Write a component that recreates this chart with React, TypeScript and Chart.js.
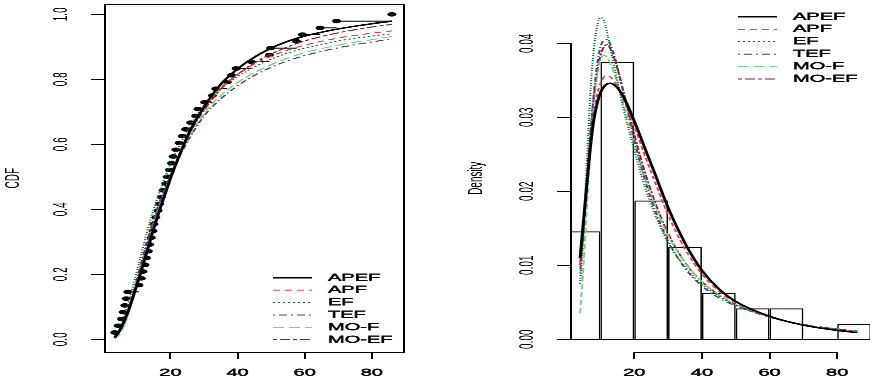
import React, { useEffect, useRef } from 'react';
import { Chart, registerables } from 'chart.js';

Chart.register(...registerables);

const FONT = '"Liberation Sans", Arial, Helvetica, sans-serif';

// ---------- data ----------
const models = ['APEF', 'APF', 'EF', 'TEF', 'MO-F', 'MO-EF'];

// observed sample (sorted), n = 48
const sample = [
  3.4, 4.4, 5.4, 5.9, 6.4, 6.8, 7.3,
  10.6, 11.3, 11.8, 12.4, 12.8, 13.4, 13.8, 14.3, 14.8, 15.1, 15.6, 16.3, 16.8, 17.3, 17.8, 18.6, 19.0, 19.7,
  20.3, 20.8, 21.6, 22.6, 23.5, 24.5, 26.0, 27.5, 28.2,
  30.2, 32.5, 33.5, 36.9, 38.2, 39.6,
  44.0, 49.5, 49.8,
  57.6, 59.3,
  64.6, 69.5,
  86.0,
];

// fitted CDFs
const cdfX = [3.4, 5, 7, 9, 11, 13, 15, 17, 20, 23, 26, 30, 35, 40, 45, 50, 55, 60, 70, 80, 86];
const cdfAPEF = [0.005, 0.030, 0.075, 0.135, 0.200, 0.270, 0.340, 0.405, 0.495, 0.575, 0.645, 0.715, 0.785, 0.832, 0.868, 0.896, 0.917, 0.933, 0.955, 0.971, 0.979];
const cdfAPF = [0.005, 0.027, 0.072, 0.135, 0.205, 0.275, 0.345, 0.410, 0.500, 0.578, 0.643, 0.712, 0.774, 0.815, 0.847, 0.871, 0.890, 0.905, 0.927, 0.942, 0.949];
const cdfEF = [0.008, 0.035, 0.095, 0.170, 0.250, 0.330, 0.400, 0.460, 0.540, 0.603, 0.658, 0.720, 0.770, 0.808, 0.838, 0.862, 0.881, 0.896, 0.918, 0.933, 0.940];
const cdfTEF = [0.005, 0.025, 0.075, 0.145, 0.225, 0.300, 0.370, 0.430, 0.505, 0.570, 0.625, 0.687, 0.740, 0.780, 0.812, 0.837, 0.857, 0.873, 0.897, 0.915, 0.923];
const cdfMOF = [0.002, 0.018, 0.065, 0.135, 0.210, 0.285, 0.355, 0.420, 0.500, 0.566, 0.626, 0.695, 0.750, 0.790, 0.820, 0.845, 0.865, 0.882, 0.905, 0.922, 0.932];
const cdfMOEF = [0.005, 0.027, 0.075, 0.140, 0.215, 0.290, 0.360, 0.420, 0.500, 0.575, 0.640, 0.705, 0.770, 0.815, 0.850, 0.878, 0.900, 0.918, 0.943, 0.961, 0.969];

// histogram
const histBreaks = [0, 10, 20, 30, 40, 50, 60, 70, 80, 90];
const histDensity = [0.01458, 0.0375, 0.01875, 0.0125, 0.00625, 0.00417, 0.00417, 0, 0.00208];

// fitted densities
const densX = [4, 5, 6, 7, 8, 9, 10, 11, 12, 13, 14, 15, 17, 20, 23, 26, 30, 35, 40, 45, 50, 60, 70, 80, 86];
const denAPEF = [0.0110, 0.0160, 0.0210, 0.0258, 0.0295, 0.0318, 0.0333, 0.0341, 0.0345, 0.0346, 0.0344, 0.0340, 0.0326, 0.0295, 0.0260, 0.0225, 0.0178, 0.0130, 0.0093, 0.0068, 0.0051, 0.0031, 0.0019, 0.0012, 0.0009];
const denAPF = [0.0100, 0.0155, 0.0210, 0.0262, 0.0302, 0.0330, 0.0346, 0.0354, 0.0356, 0.0354, 0.0349, 0.0342, 0.0322, 0.0288, 0.0250, 0.0214, 0.0168, 0.0122, 0.0088, 0.0065, 0.0049, 0.0030, 0.0019, 0.0013, 0.0010];
const denEF = [0.0075, 0.0145, 0.0240, 0.0330, 0.0390, 0.0422, 0.0435, 0.0431, 0.0414, 0.0392, 0.0370, 0.0350, 0.0308, 0.0256, 0.0208, 0.0170, 0.0131, 0.0098, 0.0074, 0.0058, 0.0046, 0.0030, 0.0020, 0.0014, 0.0011];
const denTEF = [0.0090, 0.0145, 0.0210, 0.0275, 0.0330, 0.0370, 0.0395, 0.0404, 0.0405, 0.0398, 0.0385, 0.0368, 0.0330, 0.0270, 0.0218, 0.0176, 0.0133, 0.0096, 0.0072, 0.0056, 0.0045, 0.0030, 0.0020, 0.0014, 0.0011];
const denMOF = [0.0035, 0.0100, 0.0180, 0.0258, 0.0318, 0.0356, 0.0377, 0.0384, 0.0381, 0.0372, 0.0360, 0.0346, 0.0314, 0.0266, 0.0220, 0.0182, 0.0140, 0.0104, 0.0078, 0.0060, 0.0047, 0.0030, 0.0020, 0.0014, 0.0011];
const denMOEF = [0.0100, 0.0155, 0.0215, 0.0275, 0.0325, 0.0360, 0.0383, 0.0395, 0.0398, 0.0392, 0.0381, 0.0366, 0.0331, 0.0277, 0.0228, 0.0187, 0.0143, 0.0104, 0.0078, 0.0060, 0.0047, 0.0030, 0.0019, 0.0013, 0.0010];

const cdfCurves = [cdfAPEF, cdfAPF, cdfEF, cdfTEF, cdfMOF, cdfMOEF];
const denCurves = [denAPEF, denAPF, denEF, denTEF, denMOF, denMOEF];

// ---------- styles ----------
const colors = ['#000000', '#e0405a', '#0b6b2b', '#4b3c8c', '#80cc80', '#8b1f1f'];
const dashes = [[], [7, 5], [2, 3], [2, 4, 8, 4], [11, 5], [4, 3, 10, 3]];
const widths = [3, 2, 2, 2, 2, 2];

Chart.defaults.font.family = FONT;
Chart.defaults.font.size = 20;
Chart.defaults.color = '#000';

function legendPlugin(id: string, x0: number, x1: number, tx: number, y0: number, dy: number) {
  return {
    id,
    afterDraw(chart: any) {
      const ctx = chart.ctx;
      ctx.save();
      let row = 0;
      chart.data.datasets.forEach((ds: any) => {
        if (!ds.inLegend) return;
        const y = y0 + row * dy;
        ctx.beginPath();
        ctx.setLineDash(ds.borderDash || []);
        ctx.strokeStyle = ds.borderColor;
        ctx.lineWidth = ds.borderWidth;
        ctx.moveTo(x0, y);
        ctx.lineTo(x1, y);
        ctx.stroke();
        ctx.setLineDash([]);
        ctx.fillStyle = '#000';
        ctx.strokeStyle = '#000';
        ctx.lineWidth = 0.8;
        ctx.font = `20px ${FONT}`;
        ctx.textBaseline = 'middle';
        ctx.textAlign = 'left';
        ctx.strokeText(ds.label, tx, y);
        ctx.fillText(ds.label, tx, y);
        row++;
      });
      ctx.restore();
    },
  };
}

const boxPlugin = {
  id: 'box',
  afterDraw(chart: any) {
    const { ctx, chartArea: a } = chart;
    ctx.save();
    ctx.strokeStyle = '#000';
    ctx.lineWidth = 2;
    ctx.setLineDash([]);
    ctx.strokeRect(a.left, a.top, a.right - a.left, a.bottom - a.top);
    ctx.restore();
  },
};

const rAxesPlugin = {
  id: 'raxes',
  afterDraw(chart: any) {
    const { ctx, chartArea: a, scales } = chart;
    const x = scales.x;
    const y = scales.y;
    ctx.save();
    ctx.strokeStyle = '#000';
    ctx.lineWidth = 2;
    ctx.setLineDash([]);
    ctx.beginPath();
    const yt = y.ticks;
    ctx.moveTo(a.left, y.getPixelForValue(yt[0].value));
    ctx.lineTo(a.left, y.getPixelForValue(yt[yt.length - 1].value));
    const xt = x.ticks;
    ctx.moveTo(x.getPixelForValue(xt[0].value), a.bottom);
    ctx.lineTo(x.getPixelForValue(xt[xt.length - 1].value), a.bottom);
    // histogram baseline
    const by = y.getPixelForValue(0);
    ctx.moveTo(Math.max(a.left, x.getPixelForValue(histBreaks[0])), by);
    ctx.lineTo(Math.min(a.right, x.getPixelForValue(histBreaks[histBreaks.length - 1])), by);
    ctx.stroke();
    ctx.restore();
  },
};

function baseOptions(xmin: number, xmax: number, ymin: number, ymax: number, ystep: number, ydec: number,
  ytitle: string, yWidth: number, yPad: number, titlePad: number, padRight: number) {
  const tickFont = { family: FONT, size: 20 };
  return {
    responsive: false,
    animation: false,
    devicePixelRatio: 1,
    events: [],
    layout: { padding: { left: 0, right: padRight, top: 8, bottom: 0 } },
    plugins: { legend: { display: false }, tooltip: { enabled: false } },
    scales: {
      x: {
        type: 'linear',
        position: 'bottom',
        min: xmin,
        max: xmax,
        offset: false,
        grid: { display: true, drawOnChartArea: false, drawTicks: true, tickLength: 14, color: '#000', lineWidth: 2, offset: false },
        border: { display: false },
        ticks: {
          stepSize: 20, includeBounds: false, autoSkip: false, maxRotation: 0, minRotation: 0, padding: 15,
          color: '#000', font: tickFont, textStrokeColor: '#000', textStrokeWidth: 0.8,
          callback: (v: any) => String(v),
        },
        afterFit: (s: any) => { s.height = 54; s.paddingLeft = 0; s.paddingRight = 0; },
      },
      y: {
        type: 'linear',
        position: 'left',
        min: ymin,
        max: ymax,
        grid: { display: true, drawOnChartArea: false, drawTicks: true, tickLength: 14, color: '#000', lineWidth: 2 },
        border: { display: false },
        ticks: {
          stepSize: ystep, includeBounds: false, autoSkip: false, minRotation: 90, maxRotation: 90,
          crossAlign: 'center', padding: yPad, color: '#000', font: tickFont,
          callback: (v: any) => Number(v).toFixed(ydec),
        },
        title: { display: true, text: ytitle, color: '#000', font: { family: FONT, size: 20 }, padding: { top: titlePad, bottom: 0 } },
        afterFit: (s: any) => { s.width = yWidth; s.paddingTop = 0; s.paddingBottom = 0; },
      },
    },
  };
}

export default function App() {
  const leftRef = useRef<HTMLCanvasElement>(null);
  const rightRef = useRef<HTMLCanvasElement>(null);

  useEffect(() => {
    const n = sample.length;
    const points = sample.map((x, i) => ({ x, y: (i + 1) / n }));
    const steps: { x: number; y: number | null }[] = [];
    for (let i = 0; i < n - 1; i++) {
      const f = (i + 1) / n;
      steps.push({ x: sample[i], y: f }, { x: sample[i + 1], y: f }, { x: sample[i + 1], y: null });
    }

    const cdfSets: any[] = models.map((m, i) => ({
      type: 'line',
      label: m,
      inLegend: true,
      data: cdfX.map((x, j) => ({ x, y: cdfCurves[i][j] })),
      borderColor: colors[i],
      backgroundColor: colors[i],
      borderWidth: widths[i],
      borderDash: dashes[i],
      pointRadius: 0,
      cubicInterpolationMode: 'monotone',
      fill: false,
    }));
    cdfSets.push({
      type: 'line',
      label: 'ecdf',
      data: points,
      showLine: false,
      pointRadius: 4.5,
      pointBackgroundColor: '#000',
      pointBorderColor: '#000',
      pointBorderWidth: 0,
    });
    cdfSets.push({
      type: 'line',
      label: 'steps',
      data: steps,
      borderColor: '#000',
      borderWidth: 2,
      pointRadius: 0,
      spanGaps: false,
      fill: false,
    });

    const left = new Chart(leftRef.current as HTMLCanvasElement, {
      type: 'line',
      data: { datasets: cdfSets },
      options: baseOptions(0.48, 89.6, -0.04, 1.031, 0.2, 1, 'CDF', 105, 16, 1, 32) as any,
      plugins: [boxPlugin, legendPlugin('leg1', 273, 312, 328, 555, 24.8)],
    });

    const denSets: any[] = models.map((m, i) => ({
      type: 'line',
      label: m,
      inLegend: true,
      data: densX.map((x, j) => ({ x, y: denCurves[i][j] })),
      borderColor: colors[i],
      backgroundColor: colors[i],
      borderWidth: widths[i],
      borderDash: dashes[i],
      pointRadius: 0,
      cubicInterpolationMode: 'monotone',
      fill: false,
    }));
    denSets.push({
      type: 'bar',
      label: 'hist',
      data: histDensity.map((d, i) => ({ x: (histBreaks[i] + histBreaks[i + 1]) / 2, y: d })),
      backgroundColor: 'rgba(0,0,0,0)',
      borderColor: '#000',
      borderWidth: { top: 2, left: 1.5, right: 1.5, bottom: 0 },
      borderSkipped: false,
      barPercentage: 1,
      categoryPercentage: 1,
      inflateAmount: 0,
      grouped: false,
      clip: 0,
    });

    const right = new Chart(rightRef.current as HTMLCanvasElement, {
      type: 'line',
      data: { datasets: denSets },
      options: baseOptions(1.3, 89.7, -0.00176, 0.04527, 0.01, 2, 'Density', 135, 10.5, 28, 3) as any,
      plugins: [rAxesPlugin, legendPlugin('leg2', 302, 341, 357, 33, 24.9)],
    });

    return () => {
      left.destroy();
      right.destroy();
    };
  }, []);

  return (
    <div
      style={{
        position: 'fixed',
        left: 0,
        top: 0,
        width: 873,
        height: 758,
        background: '#fff',
        transform: 'scaleY(0.5)',
        transformOrigin: '0 0',
      }}
    >
      <canvas ref={leftRef} width={436} height={758} style={{ position: 'absolute', left: 0, top: 0, width: 436, height: 758 }} />
      <canvas ref={rightRef} width={437} height={758} style={{ position: 'absolute', left: 436, top: 0, width: 437, height: 758 }} />
    </div>
  );
}
